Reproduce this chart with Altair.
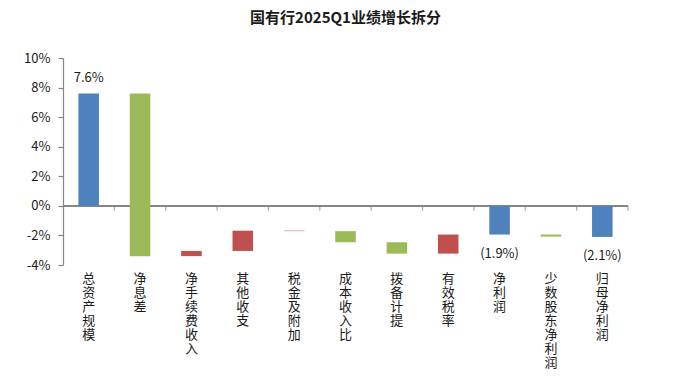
import altair as alt
import pandas as pd

categories = ["总资产规模", "净息差", "净手续费收入", "其他收支", "税金及附加", "成本收入比",
              "拨备计提", "有效税率", "净利润", "少数股东净利润", "归母净利润"]
bar_start = [0.0, 7.6, -3.4, -3.05, -1.68, -1.71, -2.46, -3.23, 0.0, -1.94, 0.0]
bar_end = [7.6, -3.4, -3.05, -1.68, -1.71, -2.46, -3.23, -1.94, -1.94, -2.08, -2.1]
bar_kind = ["合计", "减少", "增加", "增加", "增加", "减少", "减少", "增加", "合计", "减少", "合计"]
bar_labels = ["7.6%", "", "", "", "", "", "", "", "(1.9%)", "", "(2.1%)"]
y_ticks = [-4, -2, 0, 2, 4, 6, 8, 10]

kinds = ["合计", "增加", "减少"]
kind_colors = ["#4F81BD", "#C0504D", "#9BBB59"]

df = pd.DataFrame({
    "cat": categories,
    "start": bar_start,
    "end": bar_end,
    "kind": bar_kind,
    "label": bar_labels,
})
df["pos"] = df["label"].map(lambda s: "up" if s and not s.startswith("(") else ("down" if s else ""))

FONT = "Noto Sans CJK SC"
AXIS_GRAY = "#868686"
TEXT = "#1a1a1a"

xscale = alt.Scale(paddingInner=0, paddingOuter=0)
yscale = alt.Scale(domain=[y_ticks[0], y_ticks[-1]], nice=False, zero=False)

y_axis = alt.Axis(title=None, values=y_ticks,
                  labelExpr="datum.value + '%'", grid=False, labelOverlap=False,
                  domainColor=AXIS_GRAY, tickColor=AXIS_GRAY,
                  domainWidth=1.2, tickWidth=1.2, tickSize=5,
                  labelFontSize=13, labelColor=TEXT, labelFont=FONT,
                  labelPadding=8)

X = alt.X("cat:N", sort=categories, scale=xscale, axis=None)

zero_line = alt.Chart(df).mark_rule(color=AXIS_GRAY, strokeWidth=1.2).encode(
    y=alt.datum(0, type="quantitative", scale=yscale, axis=y_axis),
)

zero_ticks = alt.Chart(df).mark_tick(
    orient="vertical", size=5, thickness=1.2, yOffset=2.5, color=AXIS_GRAY
).encode(
    x=alt.X("cat:N", sort=categories, scale=xscale, axis=None, bandPosition=1),
    y=alt.datum(0, type="quantitative", scale=yscale, axis=y_axis),
)

bars = alt.Chart(df).mark_bar(width=alt.RelativeBandSize(0.4)).encode(
    x=X,
    y=alt.Y("start:Q", scale=yscale, axis=y_axis),
    y2="end:Q",
    color=alt.Color("kind:N", scale=alt.Scale(domain=kinds, range=kind_colors), legend=None),
)

cat_text = alt.Chart(df).transform_calculate(
    lines="split(datum.cat, '')"
).mark_text(
    baseline="top", dy=8, fontSize=13, font=FONT, color=TEXT, lineHeight=14
).encode(
    x=X,
    y=alt.datum(y_ticks[0], type="quantitative", scale=yscale, axis=y_axis),
    text="lines:N",
)

up_text = alt.Chart(df).transform_filter("datum.pos == 'up'").mark_text(
    baseline="bottom", dy=-8, fontSize=13, font=FONT, color=TEXT
).encode(
    x=X,
    y=alt.Y("end:Q", scale=yscale, axis=y_axis),
    text="label:N",
)

down_text = alt.Chart(df).transform_filter("datum.pos == 'down'").mark_text(
    baseline="top", dy=13, fontSize=13, font=FONT, color=TEXT
).encode(
    x=X,
    y=alt.Y("end:Q", scale=yscale, axis=y_axis),
    text="label:N",
)

chart = alt.layer(zero_line, zero_ticks, bars, cat_text, up_text, down_text).properties(
    width=565,
    height=207,
    title=alt.TitleParams("国有行2025Q1业绩增长拆分", fontSize=15, font=FONT,
                          fontWeight="bold", color=TEXT, anchor="middle", offset=26),
    autosize=alt.AutoSizeParams(type="none"),
    padding={"left": 55, "top": 50, "right": 45, "bottom": 118},
).configure_view(stroke=None)

chart.save("out.html", embed_options={"renderer": "svg", "actions": False})
